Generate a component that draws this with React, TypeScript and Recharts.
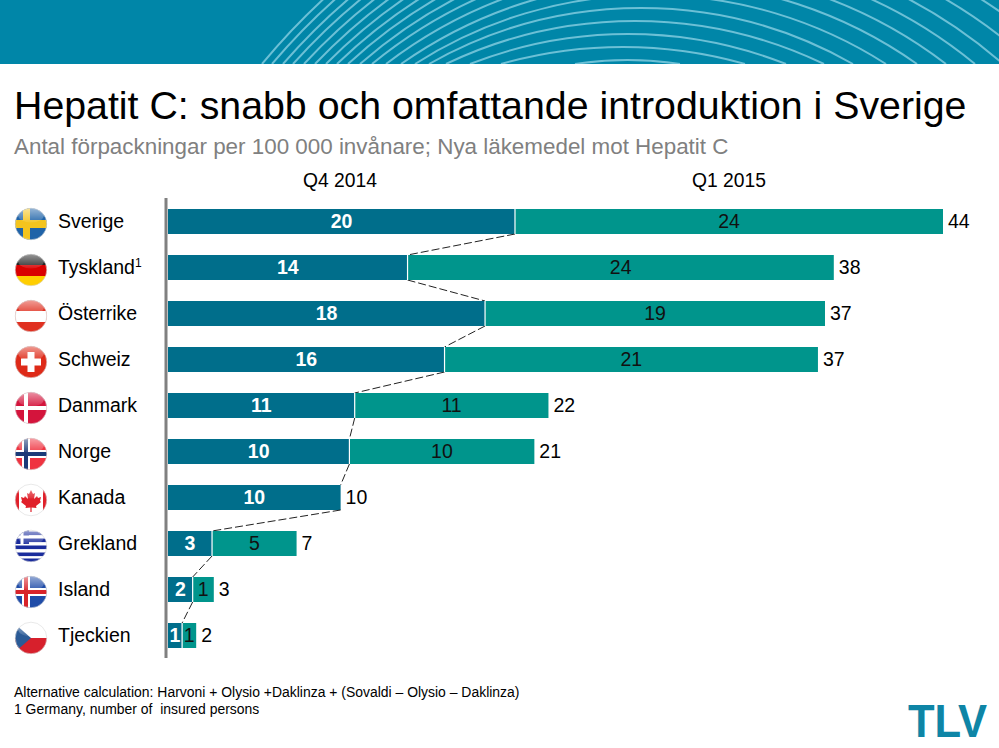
import React from "react";
import { BarChart, Bar, XAxis, YAxis, LabelList } from "recharts";

const countries = ["Sverige", "Tyskland", "Österrike", "Schweiz", "Danmark", "Norge", "Kanada", "Grekland", "Island", "Tjeckien"];
const q4Values = [19.7, 13.6, 18.0, 15.7, 10.6, 10.3, 9.8, 2.5, 1.4, 0.8];
const q1Values = [24.3, 24.2, 19.3, 21.2, 11.0, 10.5, 0, 4.8, 1.2, 0.8];
const q4Labels = [20, 14, 18, 16, 11, 10, 10, 3, 2, 1];
const q1Labels = [24, 24, 19, 21, 11, 10, null, 5, 1, 1];
const totals = [44, 38, 37, 37, 22, 21, 10, 7, 3, 2];
const arcLefts = [575, 501, 470, 446, 429, 415, 401, 386, 372, 360, 348, 337, 326, 315, 304, 293, 283, 272, 262];
const arcRights = [680, 745, 786, 824, 853, 886, 917, 946, 975, 1003, 1033, 1063, 1093, 1123, 1153, 1183, 1213, 1243, 1273];

const rows = countries.map((country, i) => ({
  country,
  q4: q4Values[i],
  q1: q1Values[i],
  q4Label: q4Labels[i],
  q1Label: q1Labels[i],
  total: totals[i],
}));

const FONT = "'Liberation Sans', Arial, sans-serif";
const DARK = "#006E8B";
const TEAL = "#00958C";
const BAND = 46;

function Q4Shape(props: any) {
  const { x, y, width, height, index } = props;
  const next = q4Values[index + 1];
  const unit = width / q4Values[index];
  const ex = x + width;
  return (
    <g>
      <rect x={x} y={y} width={width} height={height} fill={DARK} />
      {next !== undefined && (
        <line x1={ex} y1={y + height} x2={x + next * unit} y2={y + BAND} stroke="#222" strokeWidth={1} strokeDasharray="8 3" />
      )}
    </g>
  );
}

function Q1Shape(props: any) {
  const { x, y, width, height } = props;
  if (!width) return null;
  return (
    <g>
      <rect x={x} y={y} width={width} height={height} fill={TEAL} />
      <line x1={x} y1={y} x2={x} y2={y + height} stroke="#fff" strokeWidth={1.2} />
    </g>
  );
}

function FlagArt({ name }: { name: string }) {
  const R = (x: number, y: number, w: number, h: number, f: string) => <rect x={x} y={y} width={w} height={h} fill={f} />;
  switch (name) {
    case "Sverige":
      return <>{R(-16, -16, 32, 32, "#1F63A8")}{R(-16, -4, 32, 8, "#F4C41E")}{R(-8, -16, 7, 32, "#F4C41E")}</>;
    case "Tyskland":
      return <>{R(-16, -16, 32, 11, "#222")}{R(-16, -5, 32, 11, "#D90000")}{R(-16, 6, 32, 10, "#FFCE00")}</>;
    case "Österrike":
      return <>{R(-16, -16, 32, 32, "#E03020")}{R(-16, -5, 32, 11, "#fff")}</>;
    case "Schweiz":
      return <>{R(-16, -16, 32, 32, "#DE2A18")}{R(-10, -3.5, 20, 7, "#fff")}{R(-3.5, -10, 7, 20, "#fff")}</>;
    case "Danmark":
      return <>{R(-16, -16, 32, 32, "#D4143C")}{R(-16, -2, 32, 4, "#fff")}{R(-7, -16, 4, 32, "#fff")}</>;
    case "Norge":
      return <>{R(-16, -16, 32, 32, "#EF3340")}{R(-16, -4, 32, 8, "#fff")}{R(-9, -16, 8, 32, "#fff")}{R(-16, -2, 32, 4, "#1B3A78")}{R(-7, -16, 4, 32, "#1B3A78")}</>;
    case "Kanada":
      return (
        <>
          {R(-16, -16, 32, 32, "#fff")}{R(-16, -16, 4, 32, "#E0202A")}{R(12, -16, 4, 32, "#E0202A")}
          <path d="M0 -10 L2 -6 L4 -7 L3 -1 L6 -4 L7 -2 L10 -3 L9 1 L10 2 L5 6 L5.5 8 L0.6 7.4 L0.6 12 L-0.6 12 L-0.6 7.4 L-5.5 8 L-5 6 L-10 2 L-9 1 L-10 -3 L-7 -2 L-6 -4 L-3 -1 L-4 -7 L-2 -6 Z" fill="#E0202A" />
        </>
      );
    case "Grekland":
      return (
        <>
          {R(-16, -16, 32, 32, "#fff")}
          {[-14.5, -7.5, -0.5, 6.5, 12.5].map((y) => <rect key={y} x={-16} y={y} width={32} height={3.6} fill="#1A2C9C" />)}
          {R(-16, -16, 14, 14, "#1A2C9C")}{R(-16, -10.5, 14, 3, "#fff")}{R(-10.5, -16, 3, 14, "#fff")}
        </>
      );
    case "Island":
      return <>{R(-16, -16, 32, 32, "#1F4CA8")}{R(-16, -4, 32, 8, "#fff")}{R(-9, -16, 8, 32, "#fff")}{R(-16, -2, 32, 4, "#D8232A")}{R(-7, -16, 4, 32, "#D8232A")}</>;
    default:
      return (
        <>
          {R(-16, -16, 32, 16, "#fff")}{R(-16, 0, 32, 16, "#D7202C")}
          <path d="M-16 -14 L0 0 L-16 14 Z" fill="#2A5A96" />
        </>
      );
  }
}

function CountryTick(props: any) {
  const { y, payload } = props;
  const name = payload.value as string;
  const id = "clip" + payload.index;
  return (
    <g>
      <g transform={`translate(31,${y + 3})`}>
        <clipPath id={id}><circle r={15.8} /></clipPath>
        <g clipPath={`url(#${id})`}>
          <FlagArt name={name} />
          <ellipse cx={0} cy={-9} rx={13} ry={7.5} fill="url(#gloss)" />
        </g>
        <circle r={15.8} fill="none" stroke="#d8d8d8" strokeOpacity={0.7} strokeWidth={0.8} />
      </g>
      <text x={58} y={y + 7} fontFamily={FONT} fontSize={19.5} fill="#000">
        {name}
        {name === "Tyskland" && <tspan fontSize={12} dy={-7}>1</tspan>}
      </text>
    </g>
  );
}

function Banner() {
  return (
    <svg width={999} height={64} style={{ position: "absolute", left: 0, top: 0, display: "block" }}>
      <rect width={999} height={64} fill="#0086A8" />
      {arcLefts.map((l, k) => {
        const r = arcRights[k];
        const w = (r - l) / 2;
        const s = 4 + 13 * k;
        const rad = (w * w + s * s) / (2 * s);
        return <path key={k} d={`M${l} 64 A${rad} ${rad} 0 0 1 ${r} 64`} fill="none" stroke="#6CC0D6" strokeWidth={2} />;
      })}
    </svg>
  );
}

const abs = (left: number, top: number, fontSize: number, color: string): React.CSSProperties => ({
  position: "absolute", left, top, fontSize, color, fontFamily: FONT, whiteSpace: "pre", lineHeight: 1.15,
});

export default function App() {
  return (
    <div style={{ position: "absolute", left: 0, top: 0, width: 999, height: 748, background: "#fff", overflow: "hidden" }}>
      <Banner />
      <div style={abs(14, 83, 39.3, "#000")}>Hepatit C: snabb och omfattande introduktion i Sverige</div>
      <div style={abs(14, 134, 22.4, "#808080")}>Antal förpackningar per 100 000 invånare; Nya läkemedel mot Hepatit C</div>
      <div style={abs(303, 170, 19.3, "#000")}>Q4 2014</div>
      <div style={abs(692, 170, 19.3, "#000")}>Q1 2015</div>
      <div style={{ position: "absolute", left: 0, top: 0 }}>
        <BarChart
          width={999}
          height={748}
          data={rows}
          layout="vertical"
          margin={{ top: 198, right: 56, bottom: 90, left: 0 }}
          barSize={25}
        >
          <defs>
            <linearGradient id="gloss" x1="0" y1="0" x2="0" y2="1">
              <stop offset="0" stopColor="#fff" stopOpacity={0.55} />
              <stop offset="1" stopColor="#fff" stopOpacity={0.08} />
            </linearGradient>
          </defs>
          <XAxis type="number" hide domain={[0, 44]} />
          <YAxis
            type="category"
            dataKey="country"
            width={168}
            interval={0}
            tickLine={false}
            axisLine={{ stroke: "#808080", strokeWidth: 3, transform: "translate(-2,0)" }}
            tick={<CountryTick />}
          />
          <Bar dataKey="q4" stackId="a" isAnimationActive={false} shape={<Q4Shape />}>
            <LabelList dataKey="q4Label" position="center" fill="#fff" fontFamily={FONT} fontSize={19.5} fontWeight={700} />
          </Bar>
          <Bar dataKey="q1" stackId="a" isAnimationActive={false} shape={<Q1Shape />}>
            <LabelList dataKey="q1Label" position="center" fill="#111" fontFamily={FONT} fontSize={19.5} />
            <LabelList dataKey="total" position="right" offset={5} fill="#000" fontFamily={FONT} fontSize={19.5} />
          </Bar>
        </BarChart>
      </div>
      <div style={abs(14, 684, 13.95, "#000")}>Alternative calculation: Harvoni + Olysio +Daklinza + (Sovaldi – Olysio – Daklinza)</div>
      <div style={abs(14, 701, 13.95, "#000")}>1 Germany, number of  insured persons</div>
      <svg width={100} height={53} style={{ position: "absolute", left: 899, top: 695, overflow: "visible" }}>
        <text x={9} y={42} fontFamily={FONT} fontWeight={700} fontSize={46} fill="#0E85A6" textLength={79} lengthAdjust="spacingAndGlyphs">TLV</text>
      </svg>
    </div>
  );
}
